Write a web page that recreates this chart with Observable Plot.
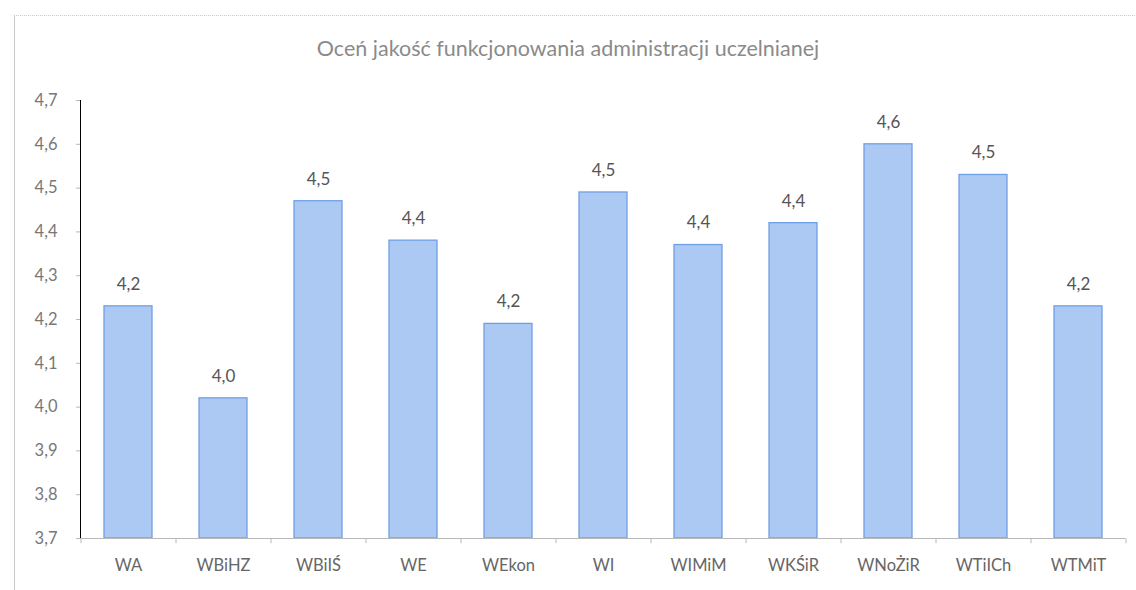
<!DOCTYPE html>
<html>
<head>
<meta charset="utf-8">
<script src="https://cdn.jsdelivr.net/npm/d3@7"></script>
<script src="https://cdn.jsdelivr.net/npm/@observablehq/plot@0.6"></script>
<style>
  html, body { margin: 0; padding: 0; background: #fff; }
  #wrap { position: relative; width: 1136px; height: 590px; overflow: hidden; font-family: Lato, "Open Sans", sans-serif; }
  #border { position: absolute; left: 14px; top: 15px; width: 1200px; height: 700px; border-left: 1px solid #c8c8c8; border-top: 1px dotted #c8c8c8; }
  #title { position: absolute; left: 0; top: 0; width: 1136px; height: 75px; line-height: 96px; text-align: center; font-size: 21.5px; color: #8a8a8a; }
  #chart { position: absolute; left: 0; top: 75px; }
</style>
</head>
<body>
<div id="wrap">
  <div id="border"></div>
  <div id="title">Oceń jakość funkcjonowania administracji uczelnianej</div>
  <div id="chart"></div>
</div>
<script>
const categories = ["WA", "WBiHZ", "WBiIŚ", "WE", "WEkon", "WI", "WIMiM", "WKŚiR", "WNoŻiR", "WTiICh", "WTMiT"];
const values = [4.23, 4.02, 4.47, 4.38, 4.19, 4.49, 4.37, 4.42, 4.60, 4.53, 4.23];
const yTicks = [3.7, 3.8, 3.9, 4.0, 4.1, 4.2, 4.3, 4.4, 4.5, 4.6, 4.7];
const yMin = 3.7, yMax = 4.7;

const data = categories.map((c, i) => ({cat: c, v: values[i]}));
const fmt = d => d.toFixed(1).replace(".", ",");

const bw = (1136 - 80 - 11) / categories.length;

const chart = Plot.plot({
  width: 1136,
  height: 515,
  marginTop: 25,
  marginBottom: 52,
  marginLeft: 80,
  marginRight: 11,
  style: {fontFamily: "Lato, 'Open Sans', sans-serif", background: "none"},
  x: {domain: categories, paddingInner: 0.5, paddingOuter: 0.25, label: null, tickSize: 0, tickPadding: 21, line: false},
  y: {domain: [yMin, yMax], ticks: yTicks, tickFormat: fmt, label: null, tickSize: 4, tickPadding: 19, line: true},
  marks: [
    Plot.barY(data, {x: "cat", y1: yMin, y2: "v", fill: "#abc9f3", stroke: "#6f9fe6", strokeWidth: 1.3}),
    Plot.ruleY([yMin], {stroke: "#b8b8b8", strokeWidth: 1}),
    Plot.ruleX(categories, {x: d => d, y1: yMin, y2: yMin - 0.012, dx: -bw / 2, stroke: "#b8b8b8"}),
    Plot.ruleX([categories[categories.length - 1]], {x: d => d, y1: yMin, y2: yMin - 0.012, dx: bw / 2, stroke: "#b8b8b8"}),
    Plot.text(data, {x: "cat", y: "v", text: d => fmt(d.v), dy: -22, fontSize: 17, fill: "#555"})
  ]
});

d3.select(chart).selectAll("g[aria-label='y-axis tick label']").attr("font-size", 16.5).attr("fill", "#777");
d3.select(chart).selectAll("g[aria-label='x-axis tick label']").attr("font-size", 16.5).attr("fill", "#666");
d3.select(chart).selectAll("g[aria-label='y-axis tick'], g[aria-label='y-axis line']").attr("stroke", "#b8b8b8");
document.getElementById("chart").appendChild(chart);
</script>
</body>
</html>
